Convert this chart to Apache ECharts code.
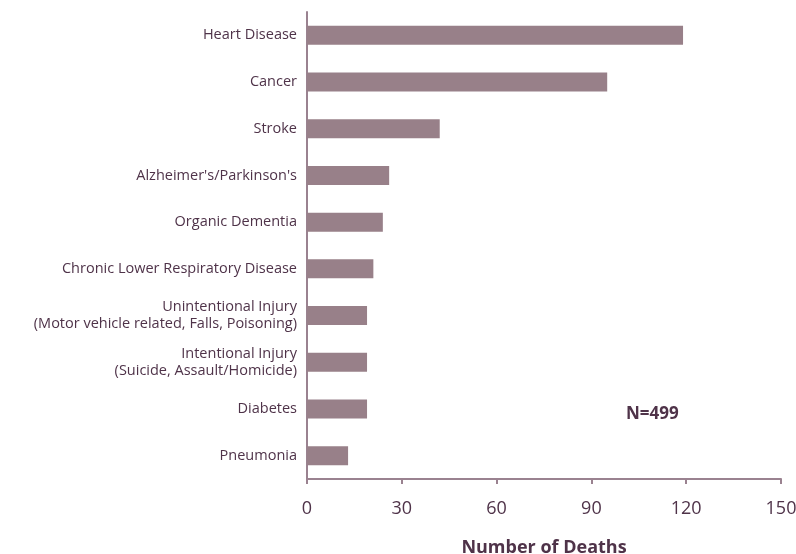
<!DOCTYPE html>
<html>
<head>
<meta charset="utf-8">
<script src="https://cdn.jsdelivr.net/npm/echarts@6/dist/echarts.min.js"></script>
<style>html,body{margin:0;padding:0;background:#fff;}#c{width:796px;height:554px;}</style>
</head>
<body>
<div id="c"></div>
<script>
const categories = [
  "Heart Disease",
  "Cancer",
  "Stroke",
  "Alzheimer's/Parkinson's",
  "Organic Dementia",
  "Chronic Lower Respiratory Disease",
  "Unintentional Injury\n(Motor vehicle related, Falls, Poisoning)",
  "Intentional Injury\n(Suicide, Assault/Homicide)",
  "Diabetes",
  "Pneumonia"
];
const deaths = [119, 95, 42, 26, 24, 21, 19, 19, 19, 13];
const xTicks = [0, 30, 60, 90, 120, 150];
const axisTitle = "Number of Deaths";
const noteText = "N=499";

const textColor = '#4f3349';
const axisColor = '#9a8290';
const chart = echarts.init(document.getElementById('c'));
chart.setOption({
  animation: false,
  grid: { left: 307, right: 15, top: 12, bottom: 75, containLabel: false, outerBoundsMode: 'none' },
  xAxis: {
    type: 'value',
    min: xTicks[0],
    max: xTicks[xTicks.length - 1],
    interval: xTicks[1] - xTicks[0],
    axisLine: { show: true, lineStyle: { color: axisColor, width: 2 } },
    axisTick: { show: true, length: 5, lineStyle: { color: axisColor, width: 2 } },
    splitLine: { show: false },
    axisLabel: { color: textColor, fontFamily: 'Open Sans', fontSize: 18, margin: 21 },
    name: axisTitle,
    nameLocation: 'middle',
    nameGap: 60,
    nameTextStyle: { color: textColor, fontFamily: 'Open Sans', fontWeight: 'bold', fontSize: 18 }
  },
  yAxis: {
    type: 'category',
    data: categories,
    inverse: true,
    axisLine: { show: true, lineStyle: { color: axisColor, width: 2 } },
    axisTick: { show: false },
    axisLabel: { color: textColor, fontFamily: 'Open Sans', fontSize: 14.5, margin: 10, lineHeight: 17, align: 'right' }
  },
  series: [{
    type: 'bar',
    data: deaths,
    barWidth: 19,
    itemStyle: { color: '#988089' }
  }],
  graphic: [{
    type: 'text',
    left: 626,
    top: 406,
    style: { text: noteText, fill: textColor, font: 'bold 17px "Open Sans"' }
  }]
});
</script>
</body>
</html>
